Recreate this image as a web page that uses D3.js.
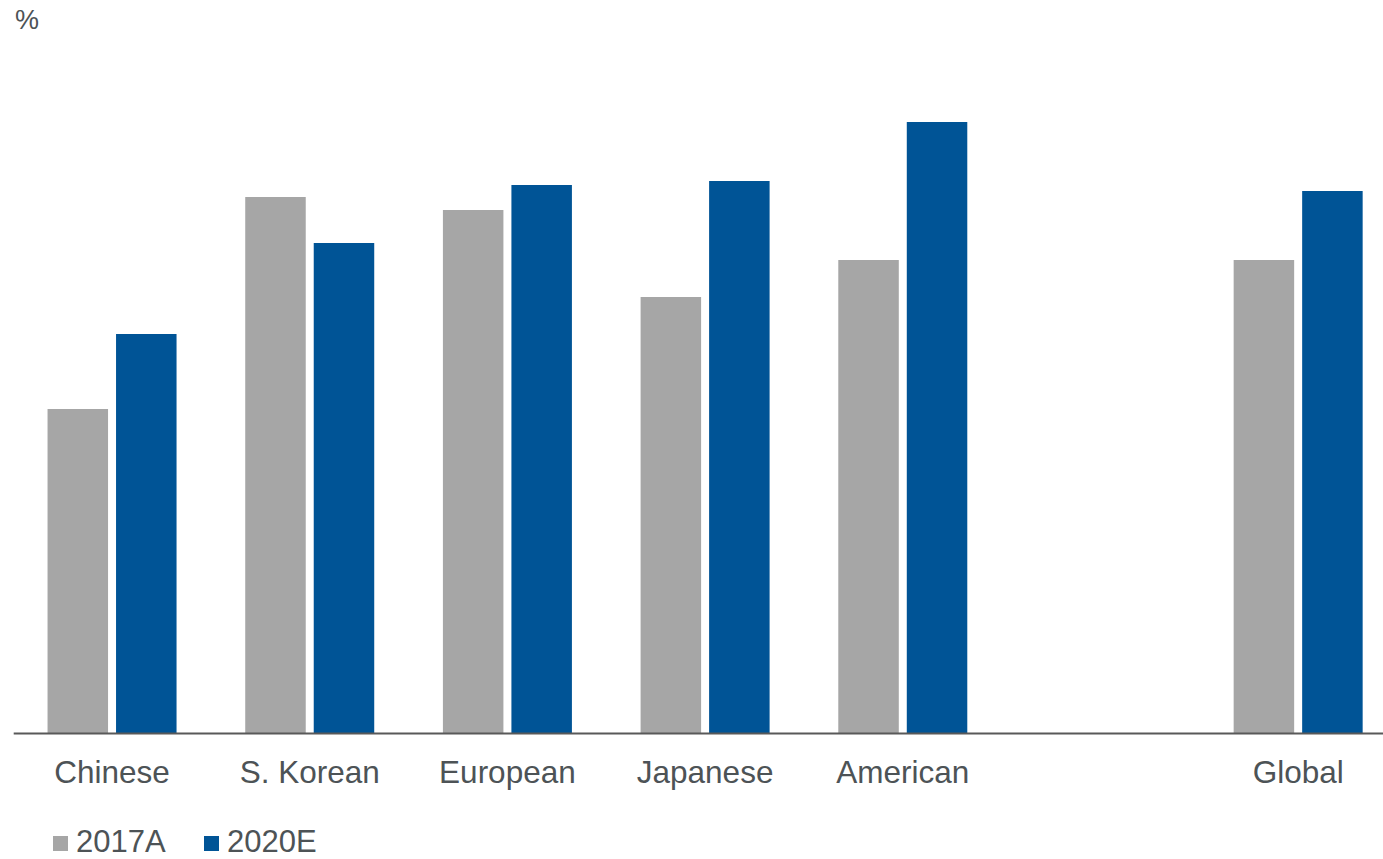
<!DOCTYPE html>
<html><head><meta charset="utf-8">
<script src="https://cdn.jsdelivr.net/npm/d3@7"></script>
<style>body{margin:0;background:#fff;}svg{display:block;font-family:Arial,"Liberation Sans",sans-serif;}</style>
</head><body>
<svg id="c" width="1383" height="859"></svg>
<script>
const categories = ["Chinese","S. Korean","European","Japanese","American","","Global"];
const series = ["2017A","2020E"];
const values2017A = [16.2, 26.8, 26.15, 21.8, 23.65, null, 23.65];
const values2020E = [19.95, 24.5, 27.4, 27.6, 30.55, null, 27.1];
const colors = ["#a6a6a6","#005496"];

const svg = d3.select("#c");
const x = d3.scaleBand().domain(categories.map((d,i)=>i)).range([13.2, 1397]);
const y = d3.scaleLinear().domain([0, 32]).range([733, 93]);
const bw = 60.5, gap = 8;

const data = [values2017A, values2020E];
data.forEach((vals, s) => {
  svg.append("g").selectAll("rect").data(vals.map((v,i)=>({v,i})).filter(d=>d.v!=null))
    .join("rect")
    .attr("x", d => x(d.i) + x.bandwidth()/2 + (s===0 ? -gap/2 - bw : gap/2))
    .attr("width", bw)
    .attr("y", d => y(d.v))
    .attr("height", d => y(0) - y(d.v))
    .attr("fill", colors[s]);
});

const ax = svg.append("g").attr("transform", `translate(0,${y(0)})`)
  .call(d3.axisBottom(x).tickSize(0).tickFormat(i => categories[i]));
ax.select(".domain").attr("stroke", "#595959").attr("stroke-width", 2);
ax.selectAll("text").attr("font-size", 31.5).attr("fill", "#4d5356").attr("dy", 0).attr("y", 50)
  .attr("font-family", "Arial, 'Liberation Sans', sans-serif");

svg.append("text").attr("x", 15).attr("y", 29).attr("font-size", 27).attr("fill", "#4d5356").text("%");

const lg = svg.append("g");
const lx = [53, 204];
series.forEach((s, i) => {
  lg.append("rect").attr("x", lx[i]).attr("y", 836).attr("width", 15).attr("height", 15).attr("fill", colors[i]);
  lg.append("text").attr("x", lx[i] + 23).attr("y", 852).attr("font-size", 31).attr("fill", "#4d5356").text(s);
});
</script>
</body></html>
